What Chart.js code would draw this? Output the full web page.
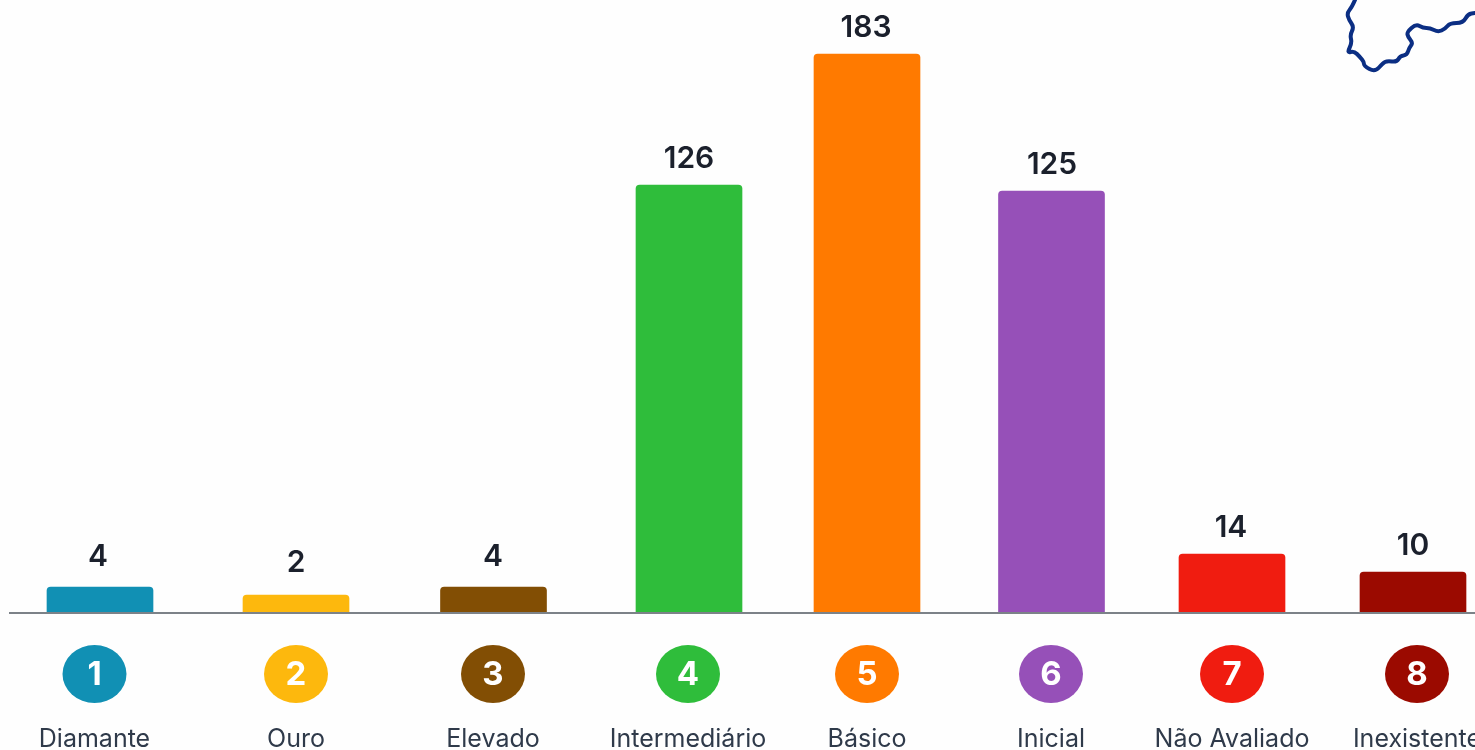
<!DOCTYPE html>
<html lang="pt">
<head>
<meta charset="utf-8">
<title>Níveis</title>
<script src="https://cdn.jsdelivr.net/npm/chart.js@4/dist/chart.umd.min.js"></script>
<style>
  html, body { margin: 0; padding: 0; background: #fefefe; overflow: hidden; }
  canvas { display: block; }
</style>
</head>
<body>
<canvas id="bar" width="1475" height="750"></canvas>
<script>
// data
const categories = ['Diamante', 'Ouro', 'Elevado', 'Intermediário', 'Básico', 'Inicial', 'Não Avaliado', 'Inexistente'];
const ranks = ['1', '2', '3', '4', '5', '6', '7', '8'];
const counts = [4, 2, 4, 126, 183, 125, 14, 10];
const colors = ['#1190b4', '#fdb80d', '#824e04', '#2fbd3b', '#ff7a00', '#9650b8', '#f01c10', '#9b0a00'];

// layout: the picture is not evenly spaced and its bars are not proportional,
// so both axes are read through these tables
const barCenters = [100, 296, 493.5, 689, 867, 1051.5, 1232, 1413];
const labelCenters = [94.5, 296, 493, 688, 867, 1051, 1232, 1417];
const valueCenters = [98, 296, 493, 689, 866, 1052, 1231, 1413];
const valueGaps = [30, 32, 30, 26, 26, 26, 26, 26];
const yKnots = [0, 2, 4, 10, 14, 125, 126, 183];
const yHeights = [0, 18, 26, 41, 59, 422, 428, 559];

class PlacedCategoryScale extends Chart.CategoryScale {
  static id = 'placedCategory';
  static defaults = Chart.CategoryScale.defaults;
  getPixelForValue(value, index) {
    const i = index !== undefined ? index : Math.round(value);
    return barCenters[i];
  }
  getPixelForTick(index) {
    return labelCenters[index];
  }
}

class WarpedLinearScale extends Chart.LinearScale {
  static id = 'warpedLinear';
  static defaults = Chart.LinearScale.defaults;
  getPixelForValue(value) {
    let i = 1;
    while (i < yKnots.length - 1 && value > yKnots[i]) i++;
    const t = (value - yKnots[i - 1]) / (yKnots[i] - yKnots[i - 1]);
    return this.bottom - (yHeights[i - 1] + t * (yHeights[i] - yHeights[i - 1]));
  }
}

Chart.register(PlacedCategoryScale, WarpedLinearScale);

// value on top of each bar
const valueLabels = {
  id: 'valueLabels',
  afterDatasetsDraw(chart) {
    const ctx = chart.ctx;
    const bars = chart.getDatasetMeta(0).data;
    ctx.save();
    ctx.font = '600 30px Inter';
    ctx.fillStyle = '#1b202c';
    ctx.textAlign = 'center';
    ctx.textBaseline = 'middle';
    bars.forEach(function (bar, i) {
      ctx.fillText(String(counts[i]), valueCenters[i], bar.y - valueGaps[i]);
    });
    ctx.restore();
  }
};

// numbered circles under the axis
const rankBadges = {
  id: 'rankBadges',
  afterDraw(chart) {
    const ctx = chart.ctx;
    const scale = chart.scales.x;
    ctx.save();
    ctx.textAlign = 'center';
    ctx.textBaseline = 'middle';
    ranks.forEach(function (rank, i) {
      const x = scale.getPixelForTick(i);
      const y = scale.top + 61;
      ctx.beginPath();
      ctx.ellipse(x, y, 32, 29, 0, 0, Math.PI * 2);
      ctx.fillStyle = colors[i];
      ctx.fill();
      ctx.fillStyle = '#ffffff';
      ctx.font = '700 33px Inter';
      ctx.fillText(rank, x, y + 1);
    });
    ctx.restore();
  }
};

// bit of the map outline in the top right corner
const mapOutline = [[1355,0],[1352,7],[1347,13],[1349,20],[1354,27],[1350,35],[1352,43],[1347,53],[1354,51],[1360,57],[1364,62],[1364,66],[1375,72],[1383,63],[1387,61],[1397,62],[1400,56],[1407,55],[1409,48],[1413,43],[1408,37],[1407,32],[1416,24],[1423,28],[1430,28],[1438,32],[1445,29],[1450,23],[1463,23],[1468,14],[1475,13]];
const cornerMap = {
  id: 'cornerMap',
  afterDraw(chart) {
    const ctx = chart.ctx;
    ctx.save();
    ctx.strokeStyle = '#0b2e83';
    ctx.lineWidth = 4;
    ctx.lineJoin = 'round';
    ctx.lineCap = 'round';
    ctx.beginPath();
    ctx.moveTo(mapOutline[0][0], mapOutline[0][1]);
    for (let i = 1; i < mapOutline.length - 1; i++) {
      const p = mapOutline[i];
      const n = mapOutline[i + 1];
      ctx.quadraticCurveTo(p[0], p[1], (p[0] + n[0]) / 2, (p[1] + n[1]) / 2);
    }
    ctx.lineTo(1475, 13);
    ctx.stroke();
    ctx.restore();
  }
};

const config = {
  type: 'bar',
  data: {
    labels: categories,
    datasets: [{
      data: counts,
      backgroundColor: colors,
      barThickness: 106,
      borderRadius: { topLeft: 4, topRight: 4, bottomLeft: 0, bottomRight: 0 },
      borderSkipped: 'bottom'
    }]
  },
  options: {
    responsive: false,
    animation: false,
    layout: { padding: { left: 10, right: 0, top: 0, bottom: 0 } },
    plugins: { legend: { display: false }, tooltip: { enabled: false } },
    scales: {
      x: {
        type: 'placedCategory',
        offset: true,
        afterFit(scale) {
          scale.height = 137;
          scale.paddingLeft = 0;
          scale.paddingRight = 0;
        },
        grid: { display: true, drawOnChartArea: false, drawTicks: false, color: 'rgba(0,0,0,0)' },
        border: { display: true, color: '#7c8288', width: 2, z: 2 },
        ticks: {
          autoSkip: false,
          maxRotation: 0,
          minRotation: 0,
          padding: 111,
          color: '#2f3a4a',
          font: { family: 'Inter', size: 25, weight: '400' }
        }
      },
      y: {
        type: 'warpedLinear',
        display: false,
        min: 0,
        max: 200
      }
    }
  },
  plugins: [valueLabels, rankBadges, cornerMap]
};

const chart = new Chart('bar', config);
</script>
</body>
</html>
